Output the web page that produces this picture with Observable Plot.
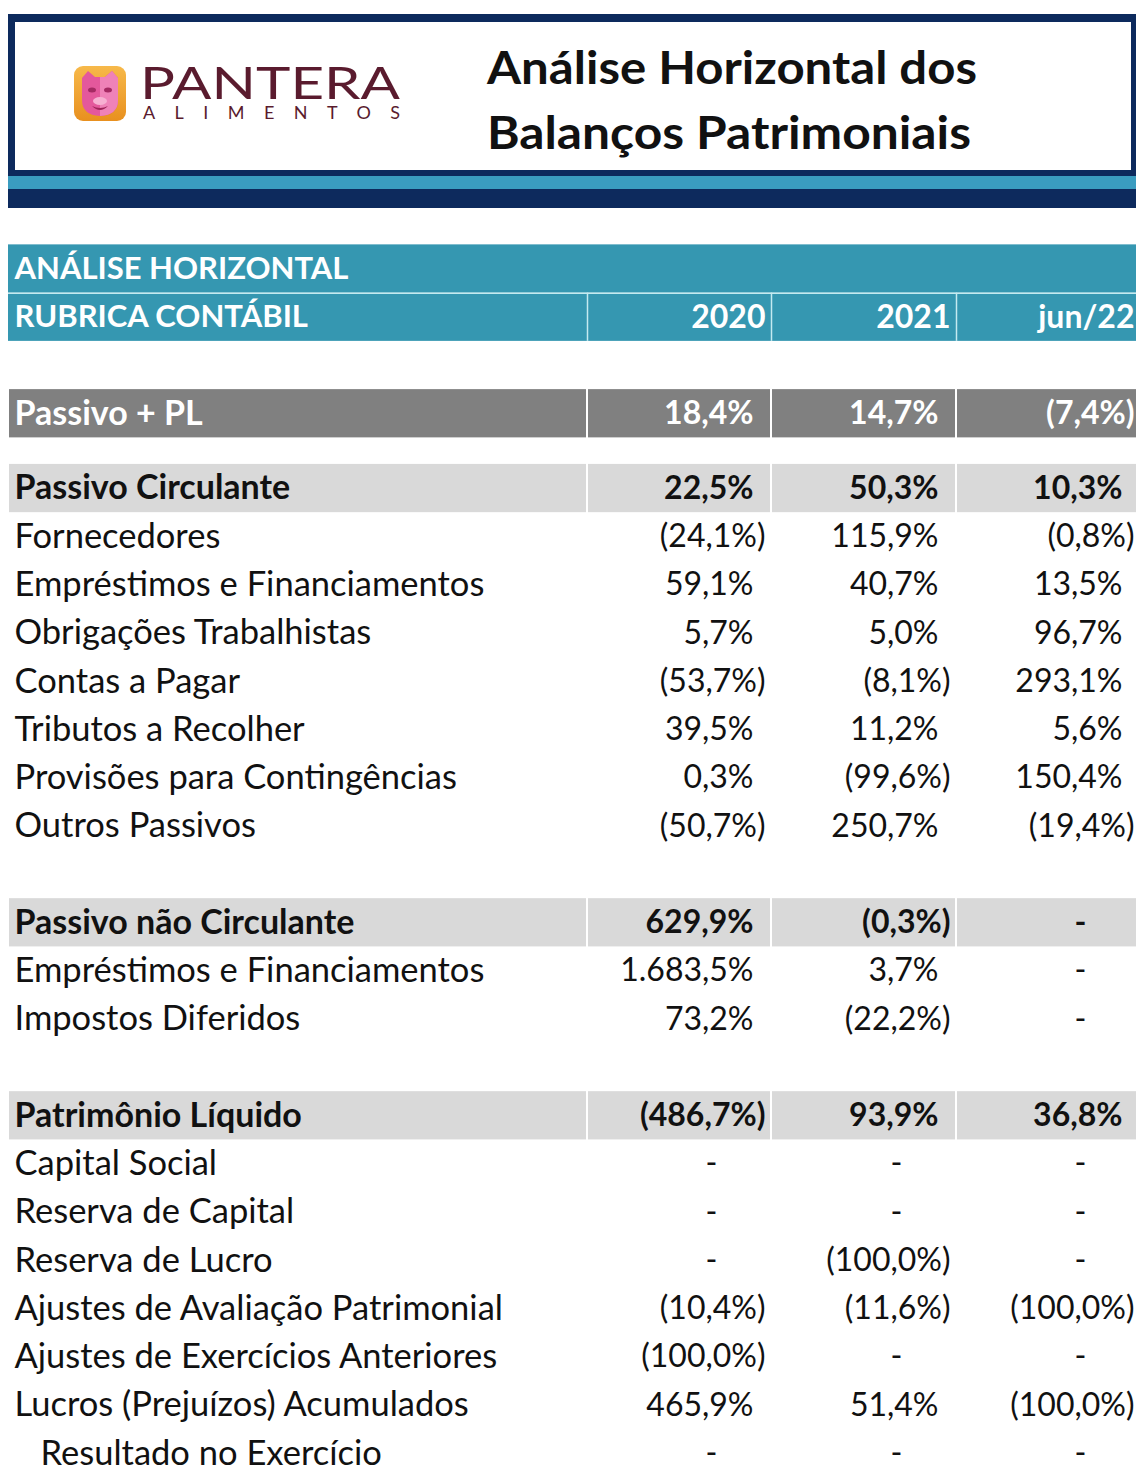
<!DOCTYPE html>
<html><head><meta charset="utf-8">
<script src="https://cdn.jsdelivr.net/npm/d3@7"></script>
<script src="https://cdn.jsdelivr.net/npm/@observablehq/plot@0.6"></script>
<style>
html,body{margin:0;padding:0;background:#fff;width:1136px;overflow:hidden}
#hdr{width:1136px;height:230px;display:block}
#chart svg{display:block}
</style></head><body>
<svg id="hdr" width="1136" height="230" xmlns="http://www.w3.org/2000/svg">
  <defs>
    <linearGradient id="og" x1="0" y1="0" x2="0" y2="1">
      <stop offset="0" stop-color="#f7b94a"/><stop offset="1" stop-color="#e8901f"/>
    </linearGradient>
  </defs>
  <rect x="8" y="14" width="1128" height="194" fill="#0d2a5d"/>
  <rect x="15" y="22" width="1116" height="148" fill="#ffffff"/>
  <rect x="8" y="176" width="1128" height="13" fill="#3a9cc0"/>
  <g>
    <rect x="74" y="66" width="52" height="55" rx="9" fill="url(#og)"/>
    <path d="M82 78 L88 71 L95 77 L105 77 L112 71 L118 78 L118 100 Q118 115 100 116 Q82 115 82 100 Z" fill="#e4589c"/>
    <path d="M100 77 L105 77 L112 71 L118 78 L118 100 Q118 115 100 116 Z" fill="#ef82b8"/>
    <ellipse cx="92" cy="90" rx="4" ry="2.5" fill="#a52a63"/>
    <ellipse cx="108" cy="90" rx="4" ry="2.5" fill="#a52a63"/>
    <ellipse cx="100" cy="101" rx="7" ry="4" fill="#f7b0d2"/>
    <path d="M92 106 Q100 114 108 106 Q100 110 92 106 Z" fill="#9e2458"/>
  </g>
  <text x="140" y="99" font-family="Lato" font-size="44" fill="#5a1b2e" textLength="260" lengthAdjust="spacingAndGlyphs">PANTERA</text>
  <text x="143" y="119" font-family="Lato" font-size="18" fill="#5a1b2e" textLength="257" lengthAdjust="spacing">ALIMENTOS</text>
  <text x="487" y="84" font-family="Lato" font-weight="bold" font-size="46" fill="#111" textLength="490" lengthAdjust="spacingAndGlyphs">Análise Horizontal dos</text>
  <text x="487" y="149" font-family="Lato" font-weight="bold" font-size="46" fill="#111" textLength="484" lengthAdjust="spacingAndGlyphs">Balanços Patrimoniais</text>
</svg>
<div id="chart"></div>
<script>
// ---- data ----
const titulo = "ANÁLISE HORIZONTAL";
const cabecalho = "RUBRICA CONTÁBIL";
const periodos = ["2020", "2021", "jun/22"];
const rubricas = [
  "Passivo + PL",
  "Passivo Circulante",
  "Fornecedores",
  "Empréstimos e Financiamentos",
  "Obrigações Trabalhistas",
  "Contas a Pagar",
  "Tributos a Recolher",
  "Provisões para Contingências",
  "Outros Passivos",
  "Passivo não Circulante",
  "Empréstimos e Financiamentos",
  "Impostos Diferidos",
  "Patrimônio Líquido",
  "Capital Social",
  "Reserva de Capital",
  "Reserva de Lucro",
  "Ajustes de Avaliação Patrimonial",
  "Ajustes de Exercícios Anteriores",
  "Lucros (Prejuízos) Acumulados",
  "Resultado no Exercício"
];
const niveis = ["total","secao","item","item","item","item","item","item","item",
  "secao","item","item","secao","item","item","item","item","item","item","subitem"];
const v2020 = [18.4, 22.5, -24.1, 59.1, 5.7, -53.7, 39.5, 0.3, -50.7,
  629.9, 1683.5, 73.2, -486.7, null, null, null, -10.4, -100.0, 465.9, null];
const v2021 = [14.7, 50.3, 115.9, 40.7, 5.0, -8.1, 11.2, -99.6, 250.7,
  -0.3, 3.7, -22.2, 93.9, null, null, -100.0, -11.6, null, 51.4, null];
const vJun22 = [-7.4, 10.3, -0.8, 13.5, 96.7, 293.1, 5.6, 150.4, -19.4,
  null, null, null, 36.8, null, null, null, -100.0, null, -100.0, null];
const valores = [v2020, v2021, vJun22];

// ---- layout ----
const W = 1136, H = 1238;
const colEdges = [8, 587, 771, 956, 1140];
const pitch = 48.25, firstCenter = 38.5;
const FS_LABEL = 34.5, FS_BOLD = 34, FS_VAL = 32, FS_HEAD = 31;
const teal = "#3597b1", cinza = "#808080", cinzaClaro = "#d9d9d9";

const loc = d3.formatLocale({decimal: ",", thousands: ".", grouping: [3], currency: ["R$", ""]});
const f1 = loc.format(",.1f");
const fmt = v => v == null ? "-" : v < 0 ? `(${f1(-v)}%)` : `${f1(v)}%`;

let u = 0;
const rows = rubricas.map((r, i) => {
  const n = niveis[i];
  if (n === "total") u = 3;
  else if (n === "secao") u = niveis[i - 1] === "total" ? u + 1.55 : u + 2;
  else u += 1;
  return {rubrica: r, nivel: n, u, bold: n === "total" || n === "secao"};
});

const cells = rows.flatMap((r, i) => periodos.map((p, j) => ({
  u: r.u, nivel: r.nivel, bold: r.bold, periodo: p, v: valores[j][i], xr: colEdges[j + 2]
})));
// accounting-style positions: negatives end near the cell edge, positives leave room for ")", dashes sit inside
const valX = d => d.v == null ? d.xr - 60 : d.v < 0 ? d.xr - 6 : d.xr - 18;

const bgs = rows.filter(r => r.bold)
  .flatMap(r => [0, 1, 2, 3].map(k => ({u: r.u, nivel: r.nivel, x1: colEdges[k], x2: colEdges[k + 1]})));

const header = [{u: 0, x1: colEdges[0], x2: W}, {u: 1, x1: colEdges[0], x2: W}];
const headCols = periodos.map((p, j) => ({periodo: p, xr: colEdges[j + 2], u: 1}));

const textColor = d => d.nivel === "total" ? "#ffffff" : "#111111";

const valueMarks = (bold) => [
  Plot.text(cells.filter(d => d.bold === bold && d.v != null), {x: valX, y: "u", text: d => fmt(d.v),
    textAnchor: "end", fill: textColor, fontWeight: bold ? "bold" : "normal", fontSize: FS_VAL}),
  Plot.text(cells.filter(d => d.bold === bold && d.v == null), {x: valX, y: "u", text: d => fmt(d.v),
    textAnchor: "middle", fill: textColor, fontWeight: bold ? "bold" : "normal", fontSize: FS_VAL})
];

const chart = Plot.plot({
  width: W, height: H, margin: 0,
  x: {domain: [0, W], range: [0, W], axis: null},
  y: {domain: [-firstCenter / pitch, (H - firstCenter) / pitch], range: [0, H], axis: null},
  style: {fontFamily: "Lato", background: "#fff", overflow: "hidden"},
  marks: [
    Plot.rect(header, {x1: "x1", x2: "x2", y1: d => d.u - 0.5, y2: d => d.u + 0.5, fill: teal}),
    Plot.ruleY([0.5], {x1: colEdges[0], x2: W, stroke: "#c4eaf0", strokeWidth: 1.5}),
    Plot.ruleX(colEdges.slice(1, 4), {y1: 0.5, y2: 1.5, stroke: "#c4eaf0", strokeWidth: 1.5}),
    Plot.rect(bgs, {x1: "x1", x2: "x2", y1: d => d.u - 0.5, y2: d => d.u + 0.5,
      fill: d => d.nivel === "total" ? cinza : cinzaClaro, insetLeft: 1, insetRight: 1}),
    Plot.text([titulo], {x: 14, y: 0, text: d => d, textAnchor: "start", fill: "#fff",
      fontWeight: "bold", fontSize: FS_HEAD}),
    Plot.text([cabecalho], {x: 14, y: 1, text: d => d, textAnchor: "start", fill: "#fff",
      fontWeight: "bold", fontSize: FS_HEAD}),
    Plot.text(headCols, {x: d => d.xr - 6, y: "u", text: "periodo", textAnchor: "end",
      fill: "#fff", fontWeight: "bold", fontSize: FS_VAL}),
    Plot.text(rows.filter(d => !d.bold), {x: d => d.nivel === "subitem" ? 40 : 14, y: "u", text: "rubrica",
      textAnchor: "start", fill: textColor, fontSize: FS_LABEL}),
    Plot.text(rows.filter(d => d.bold), {x: 14, y: "u", text: "rubrica",
      textAnchor: "start", fill: textColor, fontWeight: "bold", fontSize: FS_BOLD}),
    ...valueMarks(false),
    ...valueMarks(true)
  ]
});
document.getElementById("chart").appendChild(chart);
</script>
</body></html>
